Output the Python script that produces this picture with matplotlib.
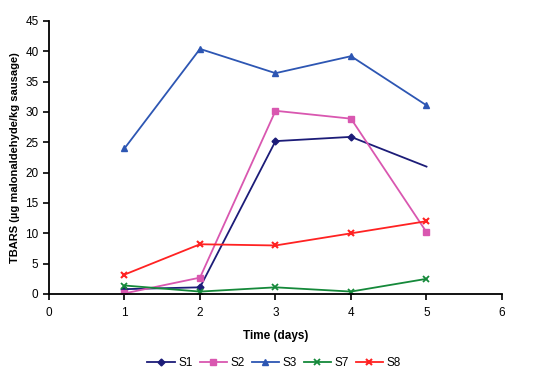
import matplotlib
matplotlib.use("Agg")
import matplotlib.pyplot as plt

plt.rcParams['font.family'] = ['Liberation Sans', 'DejaVu Sans']

days = [1, 2, 3, 4, 5]
S1 = [0.8, 1.1, 25.2, 25.9, 21.0]
S2 = [0.1, 2.7, 30.2, 28.9, 10.2]
S3 = [24.0, 40.4, 36.4, 39.2, 31.1]
S7 = [1.4, 0.4, 1.1, 0.4, 2.5]
S8 = [3.2, 8.2, 8.0, 10.0, 12.0]

fig = plt.figure(figsize=(5.48, 3.79), dpi=100)
ax = fig.add_axes([49/548, 1 - 294/379, (502 - 49)/548, (294 - 21)/379])

ax.plot(days, S1, color='#1c1c78', marker='D', markersize=3.5, lw=1.3, label='S1', markevery=[0, 1, 2, 3])
ax.plot(days, S2, color='#d957b0', marker='s', markersize=4.5, lw=1.3, label='S2')
ax.plot(days, S3, color='#2d56b3', marker='^', markersize=5, lw=1.3, label='S3')
ax.plot(days, S7, color='#15893a', marker='x', markersize=4.5, mew=1.3, lw=1.3, label='S7')
ax.plot(days, S8, color='#ff2222', marker='x', markersize=4.5, mew=1.5, lw=1.3, label='S8')

ax.set_xlim(0, 6)
ax.set_ylim(0, 45)
ax.set_xticks(range(0, 7))
ax.set_yticks(range(0, 46, 5))
for s in ['top', 'right']:
    ax.spines[s].set_visible(False)
for s in ['left', 'bottom']:
    ax.spines[s].set_linewidth(1.3)
ax.tick_params(axis='both', direction='out', length=4, width=1.2, labelsize=8.5, colors='black')
ax.tick_params(axis='x', pad=5)
ax.set_xlabel('Time (days)', fontsize=8.5, fontweight='bold', labelpad=8)
ax.set_ylabel('TBARS (µg malonaldehyde/kg sausage)', fontsize=8, fontweight='bold', labelpad=4)

fig.legend(loc='center', bbox_to_anchor=(0.5, 1 - 363/379), ncol=5, frameon=False,
           fontsize=8.5, handlelength=2.3, columnspacing=0.6, handletextpad=0.3)

fig.savefig('out.png', dpi=100)
